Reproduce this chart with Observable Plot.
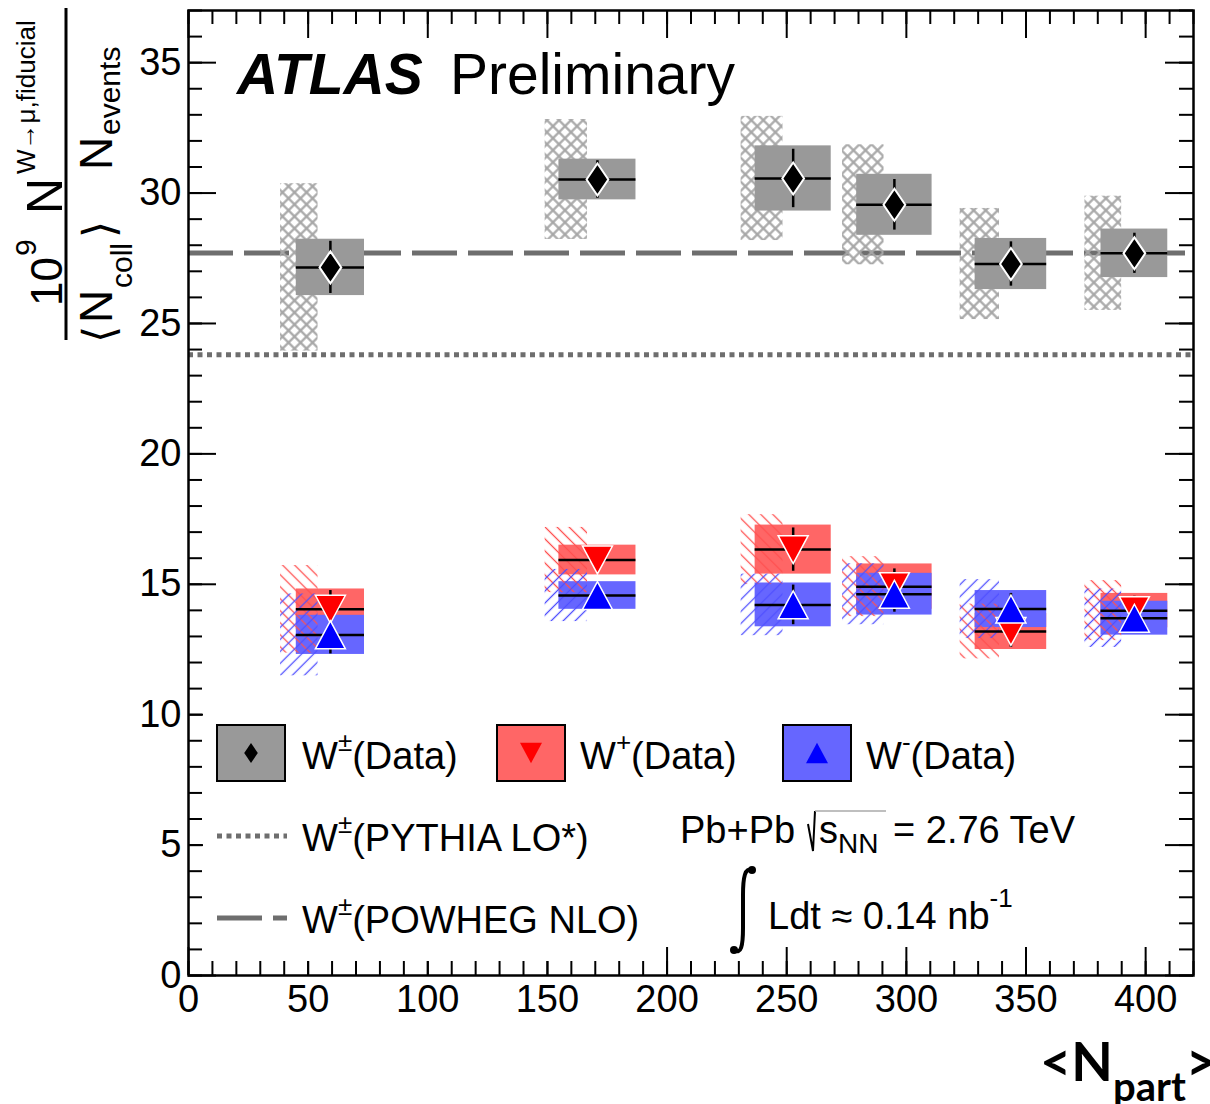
<!DOCTYPE html>
<html>
<head>
<meta charset="utf-8">
<script src="https://cdn.jsdelivr.net/npm/d3@7"></script>
<script src="https://cdn.jsdelivr.net/npm/@observablehq/plot@0.6"></script>
<style>
  body { margin: 0; background: #fff; }
  svg { display: block; }
</style>
</head>
<body>
<div id="chart"></div>
<script>
// Centrality bins: mean number of participants and its uncertainty (box half-width)
const npart    = [59.3, 170.9, 252.7, 295.0, 343.7, 395.3];
const npartErr = [14.25, 16.1, 15.9, 15.75, 14.95, 13.95];

// W± yields (10^9 N / <Ncoll> / Nevents)
const wAll      = [27.15, 30.52, 30.56, 29.55, 27.28, 27.69];
const wAllStat  = [1.00, 0.72, 1.12, 0.97, 0.85, 0.77];
const wAllSyst  = [1.08, 0.78, 1.25, 1.17, 0.98, 0.93];
const wAllColl  = [3.21, 2.30, 2.38, 2.30, 2.13, 2.19];

// W+ yields
const wPlus     = [14.04, 15.93, 16.33, 14.91, 13.19, 13.99];
const wPlusStat = [0.72, 0.50, 0.83, 0.68, 0.61, 0.55];
const wPlusSyst = [0.78, 0.57, 0.94, 0.87, 0.69, 0.66];
const wPlusColl = [1.68, 1.25, 1.34, 1.15, 1.05, 1.15];

// W- yields
const wMinus     = [13.06, 14.57, 14.21, 14.62, 14.05, 13.70];
const wMinusStat = [0.73, 0.45, 0.76, 0.69, 0.60, 0.55];
const wMinusSyst = [0.75, 0.53, 0.84, 0.80, 0.71, 0.65];
const wMinusColl = [1.57, 1.00, 1.18, 1.17, 1.13, 1.12];

// Theory predictions for W±
const pythiaLO  = 23.8;
const powhegNLO = 27.7;

// Axis ticks
const xTicks = [0, 50, 100, 150, 200, 250, 300, 350, 400];
const yTicks = [0, 5, 10, 15, 20, 25, 30, 35];

const FONT = "'Liberation Sans', Arial, Helvetica, sans-serif";
const GREY_LINE = "#6e6e6e";

const rows = (vals, stat, syst, coll) =>
  npart.map((x, i) => ({x, xe: npartErr[i], y: vals[i], stat: stat[i], syst: syst[i], coll: coll[i]}));
const all   = rows(wAll, wAllStat, wAllSyst, wAllColl);
const plus  = rows(wPlus, wPlusStat, wPlusSyst, wPlusColl);
const minus = rows(wMinus, wMinusStat, wMinusSyst, wMinusColl);

// Marker shapes (size = pi r^2 as handed over by Plot)
const diamondTall = { draw(ctx, size) { const s = Math.sqrt(size / Math.PI), w = s * 0.68;
  ctx.moveTo(0, -s); ctx.lineTo(w, 0); ctx.lineTo(0, s); ctx.lineTo(-w, 0); ctx.closePath(); } };
const triDown = { draw(ctx, size) { const s = Math.sqrt(size / Math.PI), h = s * 0.93;
  ctx.moveTo(-s, -h); ctx.lineTo(s, -h); ctx.lineTo(0, h); ctx.closePath(); } };
const triUp = { draw(ctx, size) { const s = Math.sqrt(size / Math.PI), h = s * 0.93;
  ctx.moveTo(-s, h); ctx.lineTo(s, h); ctx.lineTo(0, -h); ctx.closePath(); } };

// Ncoll band sits just left of each point
const hx1 = d => d.x - 13 - 0.55 * d.xe;
const hx2 = d => d.x - 13 + 0.55 * d.xe;
const band = (fill) => ({x1: hx1, x2: hx2, y1: d => d.y - d.coll, y2: d => d.y + d.coll, fill});
const box  = (fill) => ({x1: d => d.x - d.xe, x2: d => d.x + d.xe, y1: d => d.y - d.syst, y2: d => d.y + d.syst, fill});
const errH = (data) => Plot.ruleY(data, {y: "y", x1: d => d.x - d.xe, x2: d => d.x + d.xe, stroke: "black", strokeWidth: 2.5});
const errV = (data) => Plot.ruleX(data, {x: "x", y1: d => d.y - d.stat, y2: d => d.y + d.stat, stroke: "black", strokeWidth: 2.5});

const MT = 10, MB = 129, ML = 188, MR = 17;
const FH = 1104 - MT - MB, FW = 1210 - ML - MR;
const xMinor = d3.range(0, 421, 10);
const yMinor = d3.range(0, 38, 1);
const tk = {stroke: "black", strokeWidth: 2};

const chart = Plot.plot({
  width: 1210, height: 1104,
  marginLeft: ML, marginRight: MR, marginTop: MT, marginBottom: MB,
  x: {domain: [0, 420]},
  y: {domain: [0, 37]},
  style: {fontFamily: FONT, fontSize: "38px", color: "black", background: "white"},
  marks: [
    Plot.ruleY([powhegNLO], {stroke: GREY_LINE, strokeWidth: 5, strokeDasharray: "45,11"}),
    Plot.ruleY([pythiaLO], {stroke: GREY_LINE, strokeWidth: 5, strokeDasharray: "5,4.5"}),
    Plot.rect(all, band("url(#hatch-grey)")),
    Plot.rect(all, box("#999999")),
    Plot.rect(plus, box("#ff6666")),
    Plot.rect(minus, box("#6666ff")),
    Plot.rect(plus, band("url(#hatch-red)")),
    Plot.rect(minus, band("url(#hatch-blue)")),
    errH(all), errV(all),
    errH(plus), errV(plus),
    errH(minus), errV(minus),
    Plot.dot(all, {x: "x", y: "y", symbol: diamondTall, r: 16, fill: "black", stroke: "white", strokeWidth: 2}),
    Plot.dot(plus, {x: "x", y: "y", symbol: triDown, r: 15, fill: "#ff0000", stroke: "white", strokeWidth: 1.5}),
    Plot.dot(minus, {x: "x", y: "y", symbol: triUp, r: 15, fill: "#0000ff", stroke: "white", strokeWidth: 1.5}),
    // inward ticks on all four sides
    Plot.tickX(xMinor, {x: d => d, insetTop: FH - 14, ...tk}),
    Plot.tickX(xMinor, {x: d => d, insetBottom: FH - 14, ...tk}),
    Plot.tickX(xTicks, {x: d => d, insetTop: FH - 28, ...tk}),
    Plot.tickX(xTicks, {x: d => d, insetBottom: FH - 28, ...tk}),
    Plot.tickY(yMinor, {y: d => d, insetRight: FW - 14, ...tk}),
    Plot.tickY(yMinor, {y: d => d, insetLeft: FW - 14, ...tk}),
    Plot.tickY(yTicks, {y: d => d, insetRight: FW - 28, ...tk}),
    Plot.tickY(yTicks, {y: d => d, insetLeft: FW - 28, ...tk}),
    Plot.frame({stroke: "black", strokeWidth: 2.5}),
    Plot.axisX({ticks: xTicks, tickSize: 0, tickPadding: 10, label: null, tickFormat: d => d}),
    Plot.axisY({ticks: yTicks, tickSize: 0, tickPadding: 7, label: null, tickFormat: d => d})
  ]
});
document.getElementById("chart").appendChild(chart);

const svg = d3.select(chart);

// Hatch patterns
const defs = svg.insert("defs", ":first-child");
function hatch(id, color, width, spacing, angles) {
  const p = defs.append("pattern").attr("id", id).attr("patternUnits", "userSpaceOnUse")
    .attr("width", spacing).attr("height", spacing).attr("patternTransform", `rotate(${angles[0]})`);
  p.append("line").attr("x1", spacing / 2).attr("x2", spacing / 2).attr("y1", 0).attr("y2", spacing)
    .attr("stroke", color).attr("stroke-width", width);
  if (angles.length > 1)
    p.append("line").attr("y1", spacing / 2).attr("y2", spacing / 2).attr("x1", 0).attr("x2", spacing)
      .attr("stroke", color).attr("stroke-width", width);
}
hatch("hatch-grey", "#a6a6a6", 2.2, 8.5, [45, -45]);
hatch("hatch-red", "#ff5050", 1.3, 8.5, [-45]);
hatch("hatch-blue", "#5050ff", 1.3, 8.5, [45]);

const ann = svg.append("g").attr("font-family", FONT).attr("fill", "black").attr("text-anchor", "start");

// Text with sub/superscript runs: parts = [[text, size, dy]]
function rich(g, x, y, parts, attrs = {}) {
  const t = g.append("text").attr("x", x).attr("y", y);
  for (const [k, v] of Object.entries(attrs)) t.attr(k, v);
  for (const [s, size, dy] of parts) t.append("tspan").attr("font-size", size).attr("dy", dy || 0).text(s);
  return t;
}

// Legend backgrounds
ann.append("rect").attr("x", 203).attr("y", 700).attr("width", 827).attr("height", 100).attr("fill", "white");
ann.append("rect").attr("x", 203).attr("y", 800).attr("width", 452).attr("height", 161).attr("fill", "white");

// Title
rich(ann, 237, 94, [["ATLAS", 57]], {"font-weight": "bold", "font-style": "italic"});
rich(ann, 450, 94, [["Preliminary", 57]]);

// Legend: data entries
const symPath = (sym, r) => { const p = d3.path(); sym.draw(p, Math.PI * r * r); return p.toString(); };
const legendData = [
  {x: 217, fill: "#999999", sym: diamondTall, r: 10, mfill: "black", tx: 302, sup: "±"},
  {x: 497, fill: "#ff6666", sym: triDown, r: 11, mfill: "#ff0000", tx: 580, sup: "+"},
  {x: 783, fill: "#6666ff", sym: triUp, r: 11, mfill: "#0000ff", tx: 866, sup: "-"}
];
for (const e of legendData) {
  ann.append("rect").attr("x", e.x).attr("y", 725).attr("width", 68).attr("height", 56)
    .attr("fill", e.fill).attr("stroke", "black").attr("stroke-width", 2);
  ann.append("path").attr("d", symPath(e.sym, e.r)).attr("transform", `translate(${e.x + 34},753)`).attr("fill", e.mfill);
  rich(ann, e.tx, 769, [["W", 38], [e.sup, 26, -18], ["(Data)", 38, 18]]);
}

// Legend: theory lines
ann.append("line").attr("x1", 217).attr("x2", 287).attr("y1", 836).attr("y2", 836)
  .attr("stroke", GREY_LINE).attr("stroke-width", 5).attr("stroke-dasharray", "5,4.5");
ann.append("line").attr("x1", 217).attr("x2", 287).attr("y1", 918).attr("y2", 918)
  .attr("stroke", GREY_LINE).attr("stroke-width", 5).attr("stroke-dasharray", "45,11");
rich(ann, 302, 851, [["W", 38], ["±", 26, -18], ["(PYTHIA LO*)", 38, 18]]);
rich(ann, 302, 933, [["W", 38], ["±", 26, -18], ["(POWHEG NLO)", 38, 18]]);

// Collision system and luminosity
rich(ann, 680, 843, [["Pb+Pb", 38]]);
ann.append("path").attr("d", "M808,824 L813,851 L815,811").attr("fill", "none").attr("stroke", "black").attr("stroke-width", 2);
ann.append("line").attr("x1", 815).attr("x2", 886).attr("y1", 811).attr("y2", 811).attr("stroke", "#aaaaaa").attr("stroke-width", 1.5);
rich(ann, 819, 843, [["s", 38], ["NN", 28, 10]]);
rich(ann, 893, 843, [["= 2.76 TeV", 38]]);
ann.append("path").attr("d", "M752,871 C745,866 743,878 743,895 L743,928 C743,946 741,955 734,950")
  .attr("fill", "none").attr("stroke", "black").attr("stroke-width", 4);
ann.append("circle").attr("cx", 752).attr("cy", 870).attr("r", 4);
ann.append("circle").attr("cx", 734).attr("cy", 950).attr("r", 4);
rich(ann, 768, 929, [["Ldt \u2248 0.14 nb", 38], ["-1", 26, -22]]);

// x-axis title (runs past the right edge, as drawn by the original style)
rich(ann, 1040, 1081, [["<N", 54], ["part", 40, 20], [">", 54, -20]],
  {"font-weight": "bold", "font-family": "Lato, 'Open Sans', sans-serif"});

// y-axis title (rotated fraction)
function rtext(x, y, s, size, family) {
  const t = ann.append("text").attr("transform", `translate(${x},${y}) rotate(-90)`).attr("font-size", size).text(s);
  if (family) t.attr("font-family", family);
  return t;
}
rtext(62, 306, "10", 44);
rtext(36, 256, "9", 30);
rtext(62, 214, "N", 50);
rtext(35, 174, "W\u2192\u03bc,fiducial", 26);
ann.append("line").attr("x1", 66).attr("x2", 66).attr("y1", 8).attr("y2", 340).attr("stroke", "black").attr("stroke-width", 3);
rtext(114, 343, "\u27e8", 44, "'DejaVu Sans', sans-serif");
rtext(112, 323, "N", 46);
rtext(132, 288, "coll", 30);
rtext(114, 238, "\u27e9", 44, "'DejaVu Sans', sans-serif");
rtext(112, 170, "N", 46);
rtext(120, 135, "events", 30);
</script>
</body>
</html>
